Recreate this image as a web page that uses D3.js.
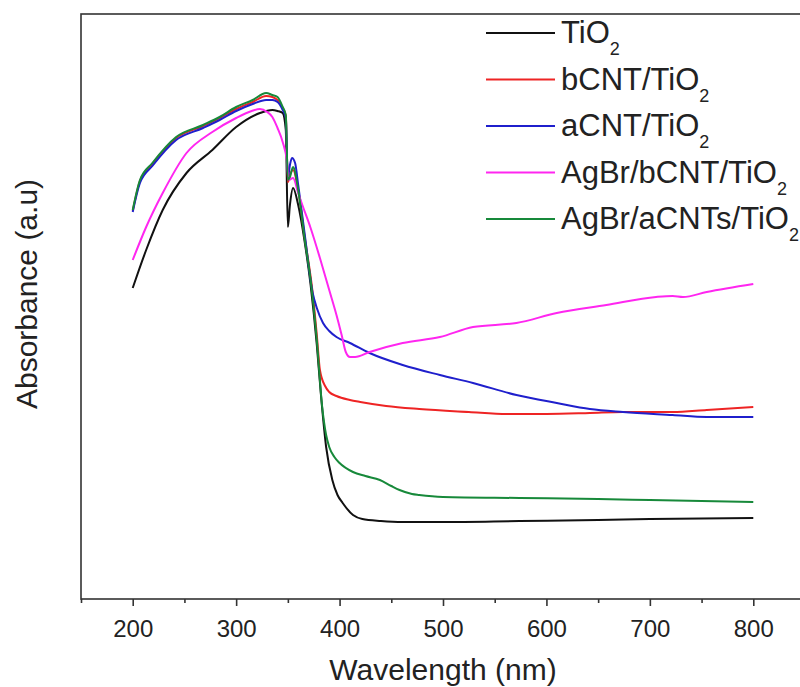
<!DOCTYPE html>
<html>
<head>
<meta charset="utf-8">
<script src="https://cdn.jsdelivr.net/npm/d3@7"></script>
<style>
  body { margin: 0; background: #fff; }
  svg { font-family: "Liberation Sans", Arial, sans-serif; }
</style>
</head>
<body>
<svg id="chart" width="800" height="687"></svg>
<script>
// wavelength (nm) and absorbance (a.u.)
const tio2 = [[200,3.11],[213,3.49],[229,3.89],[252,4.26],[277,4.49],[300,4.72],[323,4.86],[335,4.89],[340,4.88],[345,4.86],[348,4.69],[350,3.72],[352,3.94],[355,4.11],[360,3.94],[366,3.59],[372,3.14],[378,2.54],[382,2.04],[387,1.52],[393,1.19],[398,1.04],[403,0.96],[413,0.84],[422,0.80],[440,0.78],[461,0.77],[500,0.77],[574,0.78],[650,0.79],[700,0.80],[800,0.81]];

const bcntTio2 = [[200,3.88],[207,4.18],[219,4.35],[242,4.61],[268,4.73],[284,4.81],[300,4.90],[316,4.97],[329,5.03],[335,5.02],[340,4.99],[345,4.91],[348,4.83],[350,4.17],[352,4.24],[355,4.29],[360,4.09],[366,3.64],[374,3.06],[378,2.64],[381,2.29],[386,2.13],[390,2.07],[397,2.03],[410,1.99],[420,1.97],[445,1.93],[477,1.90],[525,1.87],[562,1.85],[600,1.85],[642,1.86],[674,1.87],[722,1.87],[755,1.89],[800,1.92]];

const acntTio2 = [[200,3.87],[207,4.16],[219,4.33],[242,4.59],[268,4.71],[284,4.79],[300,4.88],[316,4.95],[329,4.99],[335,4.99],[340,4.97],[345,4.89],[348,4.81],[350,4.21],[352,4.34],[354,4.41],[357,4.36],[360,4.14],[366,3.67],[374,3.06],[378,2.91],[384,2.76],[390,2.68],[397,2.62],[410,2.56],[429,2.46],[461,2.34],[497,2.24],[529,2.16],[571,2.04],[610,1.96],[642,1.90],[674,1.87],[722,1.84],[755,1.82],[800,1.82]];

const agbrBcnt = [[200,3.39],[213,3.72],[229,4.06],[252,4.46],[277,4.67],[300,4.81],[315,4.88],[323,4.90],[330,4.87],[335,4.82],[340,4.71],[345,4.57],[349,4.39],[351,4.19],[355,4.21],[360,4.06],[364,3.94],[372,3.71],[381,3.41],[390,3.09],[397,2.84],[402,2.64],[406,2.47],[410,2.42],[415,2.42],[429,2.47],[461,2.56],[497,2.62],[529,2.72],[571,2.76],[610,2.86],[658,2.94],[706,3.02],[722,3.03],[732,3.02],[755,3.07],[800,3.15]];

const agbrAcnts = [[200,3.89],[207,4.19],[219,4.36],[242,4.62],[268,4.74],[284,4.82],[300,4.92],[316,4.99],[329,5.06],[335,5.04],[340,5.02],[345,4.92],[348,4.84],[350,4.19],[352,4.22],[355,4.32],[360,4.09],[366,3.62],[372,3.19],[378,2.59],[383,1.94],[387,1.64],[390,1.52],[395,1.42],[400,1.36],[413,1.27],[425,1.23],[439,1.19],[450,1.13],[458,1.09],[470,1.05],[477,1.04],[500,1.02],[574,1.01],[650,1.00],[700,0.99],[800,0.97]];

const seriesNames = ["TiO", "bCNT/TiO", "aCNT/TiO", "AgBr/bCNT/TiO", "AgBr/aCNTs/TiO"];
const seriesData = [tio2, bcntTio2, acntTio2, agbrBcnt, agbrAcnts];
const seriesColors = ["#111111", "#ee2424", "#1f1fcc", "#ff26f0", "#17893a"];
const majorTicks = [200, 300, 400, 500, 600, 700, 800];
const minorTicks = [150, 250, 350, 450, 550, 650, 750, 850];

const svg = d3.select("#chart");
const plotLeft = 81, plotRight = 805, plotTop = 14, plotBottom = 599;

const x = d3.scaleLinear().domain([150, 850]).range([plotLeft, plotRight]);
const y = d3.scaleLinear().domain([0, 5.85]).range([plotBottom, plotTop]);

// frame (right side runs past the picture edge like the original)
svg.append("rect")
    .attr("x", plotLeft).attr("y", plotTop)
    .attr("width", plotRight - plotLeft).attr("height", plotBottom - plotTop)
    .attr("fill", "none")
    .attr("stroke", "#333")
    .attr("stroke-width", 1.6);

// minor ticks first, then the labelled ones
svg.append("g")
    .attr("transform", `translate(0,${plotBottom})`)
    .call(d3.axisBottom(x).tickValues(minorTicks).tickSize(4).tickFormat(""))
    .call(g => g.select(".domain").remove())
    .call(g => g.selectAll("line").attr("stroke", "#333").attr("stroke-width", 1.6));

const xAxis = svg.append("g")
    .attr("transform", `translate(0,${plotBottom})`)
    .call(d3.axisBottom(x).tickValues(majorTicks).tickSize(7).tickPadding(14).tickFormat(d3.format("d")));
xAxis.select(".domain").remove();
xAxis.selectAll("line").attr("stroke", "#333").attr("stroke-width", 1.6);
xAxis.selectAll("text")
    .attr("font-size", 24)
    .attr("font-family", "'Liberation Sans', Arial, sans-serif")
    .attr("fill", "#222");

svg.append("text")
    .attr("x", 443).attr("y", 680)
    .attr("text-anchor", "middle")
    .attr("font-size", 30)
    .attr("fill", "#222")
    .text("Wavelength (nm)");

svg.append("text")
    .attr("transform", "translate(37,294) rotate(-90)")
    .attr("text-anchor", "middle")
    .attr("font-size", 30)
    .attr("fill", "#222")
    .text("Absorbance (a.u)");

const line = d3.line()
    .x(d => x(d[0]))
    .y(d => y(d[1]))
    .curve(d3.curveMonotoneX);

svg.selectAll(".spectrum")
    .data(seriesData)
    .enter()
    .append("path")
    .attr("class", "spectrum")
    .attr("d", d => line(d))
    .attr("fill", "none")
    .attr("stroke", (d, i) => seriesColors[i])
    .attr("stroke-width", 2)
    .attr("stroke-linejoin", "round");

// legend
const legend = svg.append("g");
const rowY = d3.scalePoint().domain(d3.range(seriesNames.length)).range([33, 219]);

seriesNames.forEach((name, i) => {
    const ly = rowY(i);
    legend.append("line")
        .attr("x1", 486).attr("x2", 555)
        .attr("y1", ly).attr("y2", ly)
        .attr("stroke", seriesColors[i])
        .attr("stroke-width", 2);
    const t = legend.append("text")
        .attr("x", 561).attr("y", ly + 10)
        .attr("font-size", 31)
        .attr("fill", "#222");
    t.append("tspan").text(name);
    t.append("tspan").attr("font-size", 18).attr("dy", 12).text("2");
});
</script>
</body>
</html>
